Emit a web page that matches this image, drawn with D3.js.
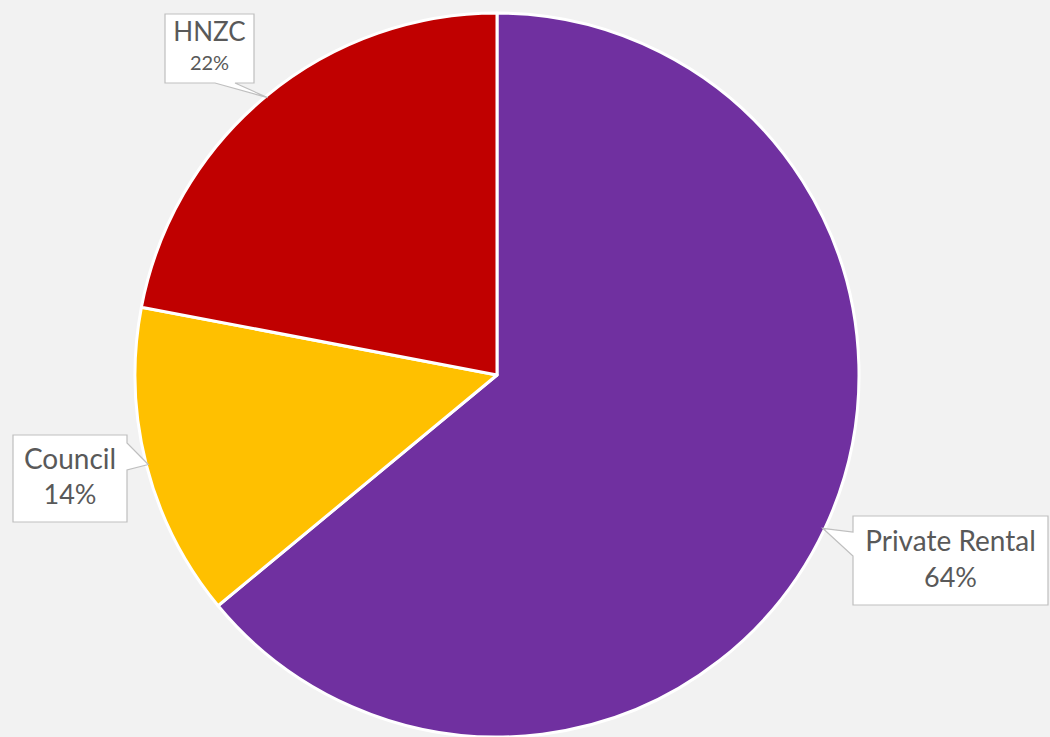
<!DOCTYPE html>
<html>
<head>
<meta charset="utf-8">
<script src="https://cdn.jsdelivr.net/npm/d3@7"></script>
<style>
  html, body { margin: 0; padding: 0; background: #f2f2f2; }
  svg { display: block; }
  .lbl-name { font-family: "Lato", "Open Sans", sans-serif; fill: #595959; }
</style>
</head>
<body>
<div id="chart"></div>
<script>
// chart data
var categories = ["Private Rental", "Council", "HNZC"]
var shares = [64, 14, 22]
var sliceColors = ["#7030a0", "#ffc000", "#c00000"]
var pctLabels = ["64%", "14%", "22%"]

var width = 1050, height = 737
var cx = 497, cy = 375, radius = 362

// callout boxes: [x, y, w, h, side of wedge]
var boxLayout = [
  { x: 853, y: 516, w: 195, h: 89, side: "left", nameSize: 28, pctSize: 27, nameY: 0.31, pctY: 0.72 },
  { x: 13, y: 435, w: 114, h: 87, side: "right", nameSize: 28, pctSize: 27, nameY: 0.31, pctY: 0.72 },
  { x: 165, y: 14, w: 89, h: 69, side: "bottom", nameSize: 26, pctSize: 20, nameY: 0.29, pctY: 0.74 }
]

var svg = d3.select("#chart")
  .append("svg")
  .attr("width", width)
  .attr("height", height)

svg.append("rect")
  .attr("width", width)
  .attr("height", height)
  .attr("fill", "#f2f2f2")

var pie = d3.pie().sort(null).value(function(d) { return d })
var arcs = pie(shares)
var arcFn = d3.arc().innerRadius(0).outerRadius(radius)

var g = svg.append("g").attr("transform", "translate(" + cx + "," + cy + ")")

g.selectAll("path.slice")
  .data(arcs)
  .enter()
  .append("path")
  .attr("class", "slice")
  .attr("d", arcFn)
  .attr("fill", function(d, i) { return sliceColors[i] })
  .attr("stroke", "#ffffff")
  .attr("stroke-width", 3)
  .attr("stroke-linejoin", "round")

/* callouts */
function tipPoint(d) {
  var a = (d.startAngle + d.endAngle) / 2
  return [cx + Math.sin(a) * (radius - 2), cy - Math.cos(a) * (radius - 2)]
}

function calloutPath(b, tip) {
  var x0 = b.x, y0 = b.y, x1 = b.x + b.w, y1 = b.y + b.h
  var p = d3.path()
  if (b.side == "left") {
    p.moveTo(x0, y0); p.lineTo(x1, y0); p.lineTo(x1, y1); p.lineTo(x0, y1)
    p.lineTo(x0, y0 + 40); p.lineTo(tip[0], tip[1]); p.lineTo(x0, y0 + 16)
    p.closePath()
  } else if (b.side == "right") {
    p.moveTo(x0, y0); p.lineTo(x1, y0); p.lineTo(x1, y0 + 8); p.lineTo(tip[0], tip[1])
    p.lineTo(x1, y0 + 35); p.lineTo(x1, y1); p.lineTo(x0, y1)
    p.closePath()
  } else {
    p.moveTo(x0, y0); p.lineTo(x1, y0); p.lineTo(x1, y1); p.lineTo(x0 + 70, y1)
    p.lineTo(tip[0], tip[1]); p.lineTo(x0 + 50, y1); p.lineTo(x0, y1)
    p.closePath()
  }
  return p.toString()
}

boxLayout.forEach(function(b, i) {
  var tip = tipPoint(arcs[i])
  svg.append("path")
    .attr("d", calloutPath(b, tip))
    .attr("fill", "#ffffff")
    .attr("stroke", "#bfbfbf")
    .attr("stroke-width", 1.2)
  var mid = b.x + b.w / 2
  svg.append("text")
    .attr("class", "lbl-name")
    .attr("x", mid)
    .attr("y", b.y + b.h * b.nameY)
    .attr("text-anchor", "middle")
    .attr("dominant-baseline", "middle")
    .style("font-size", b.nameSize + "px")
    .text(categories[i])
  svg.append("text")
    .attr("class", "lbl-name")
    .attr("x", mid)
    .attr("y", b.y + b.h * b.pctY)
    .attr("text-anchor", "middle")
    .attr("dominant-baseline", "middle")
    .style("font-size", b.pctSize + "px")
    .text(pctLabels[i])
})
</script>
</body>
</html>
